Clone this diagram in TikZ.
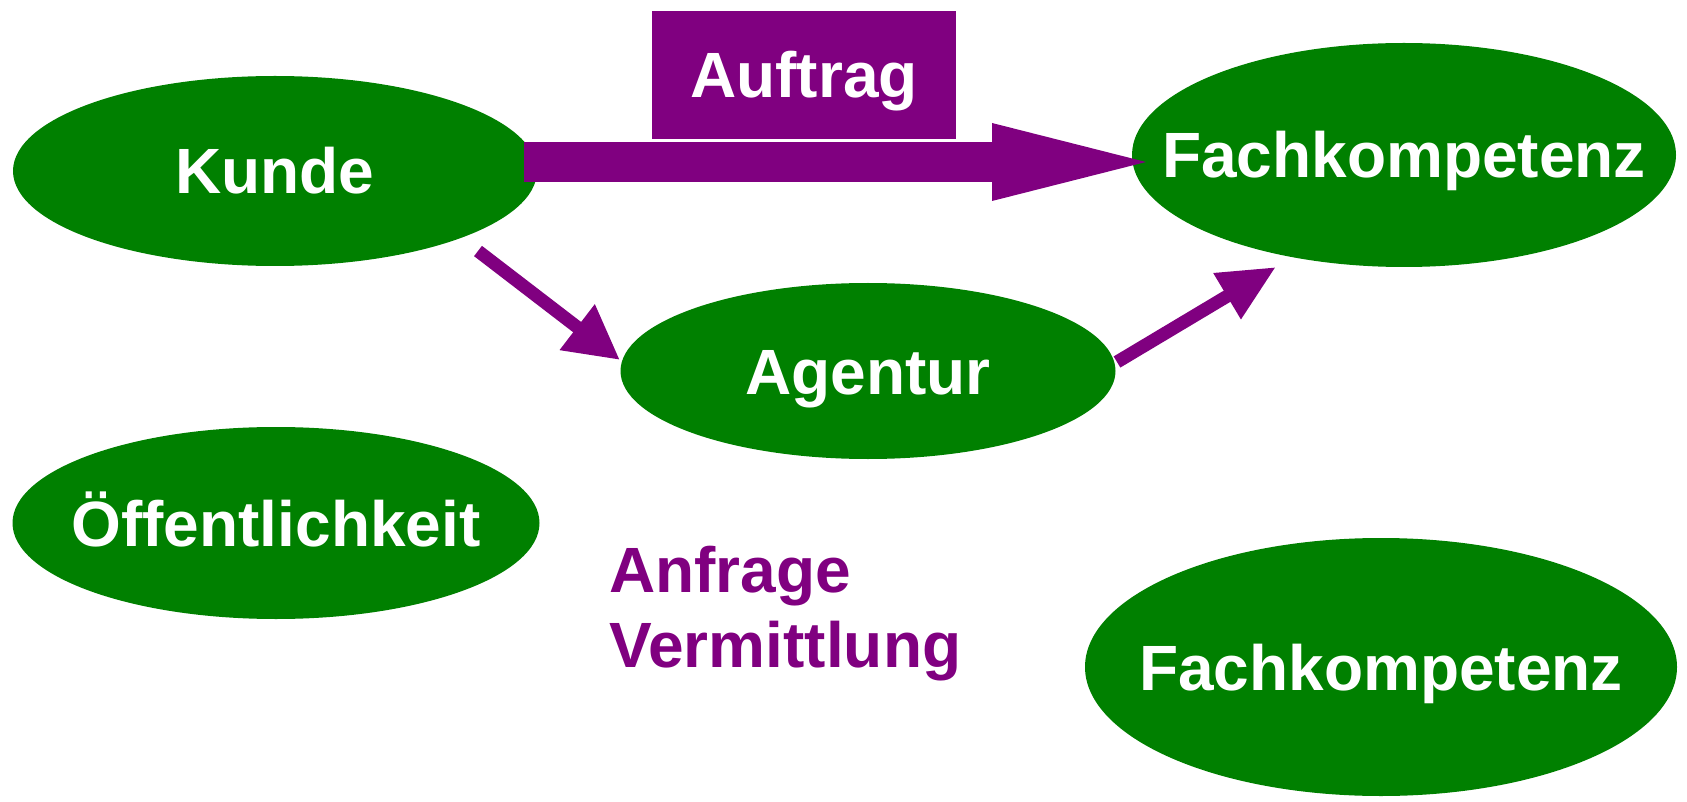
\documentclass[tikz,border=0pt]{standalone}
\usepackage{fontspec}
\setmainfont{Liberation Sans}
\usetikzlibrary{shapes.geometric,arrows.meta}
\definecolor{dgreen}{HTML}{008000}
\definecolor{dpurple}{HTML}{800080}
\begin{document}
\begin{tikzpicture}[x=1pt,y=-1pt,
  bigfont/.style={font=\fontsize{64}{70}\selectfont\bfseries},
  lbl/.style={bigfont,text=white,inner sep=0pt,text height=46pt,text depth=0pt},
  ell/.style={ellipse,fill=dgreen,inner sep=0pt},
  thinarrow/.style={draw=dpurple,line width=13pt,line cap=butt},
  purpletext/.style={bigfont,text=dpurple,inner sep=0pt,anchor=base west}]
\useasboundingbox[fill=white] (0,0) rectangle (1687,802);
% ellipses
\node[ell,minimum width=524pt,minimum height=190pt,label={[lbl]center:Kunde}] (kunde) at (275,171) {};
\node[ell,minimum width=544pt,minimum height=224pt,label={[lbl]center:Fachkompetenz}] (fach1) at (1404,155) {};
\node[ell,minimum width=495pt,minimum height=176pt,label={[lbl]center:Agentur}] (agentur) at (868,371) {};
\node[ell,minimum width=527pt,minimum height=192pt,label={[lbl]center:Öffentlichkeit}] (oeff) at (276,523) {};
\node[ell,minimum width=592pt,minimum height=258pt,label={[lbl]center:Fachkompetenz}] (fach2) at (1381,667) {};
% Auftrag box
\node[fill=dpurple,minimum width=304pt,minimum height=128pt,inner sep=0pt,label={[lbl]center:Auftrag}] (auftrag) at (804,75) {};
% big arrow
\coordinate (a1s) at (524,162);
\coordinate (a1e) at (1146,162);
\draw[draw=dpurple,line width=40pt,line cap=butt,-{Triangle[length=154pt,width=78pt,line width=0pt,fill=dpurple]}] (a1s) -- (a1e);
% small arrows
\coordinate (a2s) at (478,251);
\coordinate (a2e) at (620,360);
\draw[thinarrow,-{Triangle[length=54pt,width=54pt,fill=dpurple]}] (a2s) -- (a2e);
\coordinate (a3s) at (1117,362);
\coordinate (a3e) at (1276,267);
\draw[thinarrow,-{Triangle[length=57pt,width=50pt,fill=dpurple]}] (a3s) -- (a3e);
% texts
\node[purpletext] (anfrage) at (609,592) {Anfrage};
\node[purpletext] (verm) at (609,667) {Vermittlung};
\end{tikzpicture}
\end{document}
